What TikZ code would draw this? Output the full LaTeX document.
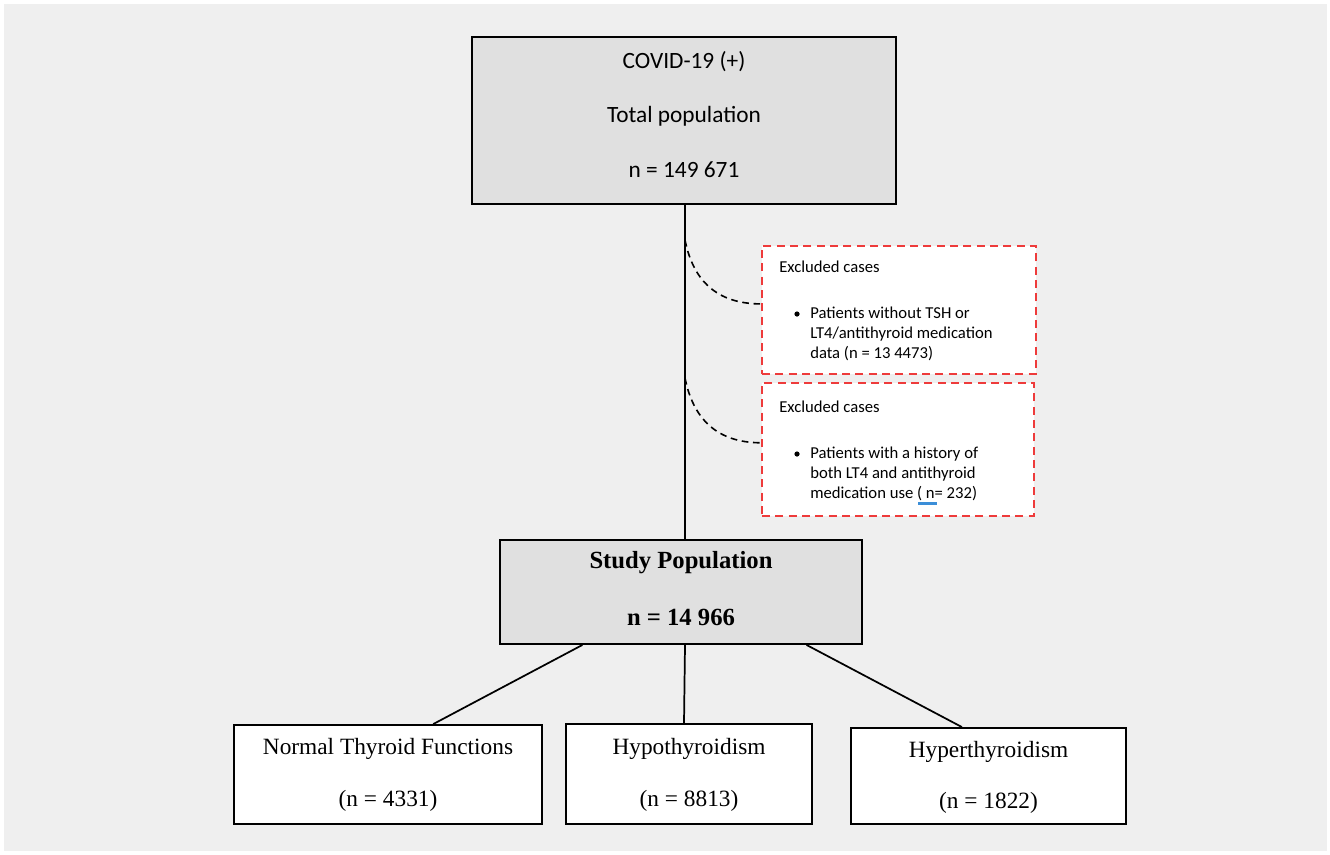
\documentclass[tikz,border=0pt]{standalone}
\usepackage{fontspec}
\setmainfont{Carlito}
\newfontfamily\serifbf{Liberation Serif}
\usetikzlibrary{calc}
\definecolor{bgcol}{HTML}{EFEFEF}
\definecolor{boxgray}{HTML}{E0E0E0}
\definecolor{exred}{HTML}{EE3B3B}
\definecolor{spellblue}{HTML}{3B8ED8}
\tikzset{
  graybox/.style={draw=black, line width=1.4pt, fill=boxgray, inner sep=0pt},
  whitebox/.style={draw=black, line width=1.4pt, fill=white, inner sep=0pt},
  exbox/.style={draw=exred, line width=1.2pt, dash pattern=on 6pt off 4pt, fill=white, inner sep=0pt},
  conn/.style={draw=black, line width=1.3pt},
  dconn/.style={draw=black, line width=1.2pt, dash pattern=on 5pt off 3.5pt},
  toptext/.style={font=\fontsize{17.5}{21}\selectfont, inner sep=0pt},
  extext/.style={font=\fontsize{12.5}{15}\selectfont, inner sep=0pt, align=left},
  studytext/.style={font=\serifbf\bfseries\fontsize{18.5}{22}\selectfont, inner sep=0pt},
  subtext/.style={font=\serifbf\fontsize{17.5}{21}\selectfont, inner sep=0pt}
}
\begin{document}
\begin{tikzpicture}[x=0.75pt, y=-0.75pt]
\useasboundingbox (0,0) rectangle (1330,854);
\fill[white] (0,0) rectangle (1330,854);
\fill[bgcol] (4,4) rectangle (1327,851);

% boxes
\node[graybox, minimum width=424*0.75pt, minimum height=167*0.75pt] (top) at (684,120.5) {};
\node[exbox, minimum width=274*0.75pt, minimum height=128*0.75pt] (ex1) at (899,310) {};
\node[exbox, minimum width=272*0.75pt, minimum height=133*0.75pt] (ex2) at (898,449.5) {};
\node[graybox, minimum width=362*0.75pt, minimum height=104*0.75pt] (study) at (681,592) {};
\node[whitebox, minimum width=308*0.75pt, minimum height=99*0.75pt] (nrm) at (388,774.5) {};
\node[whitebox, minimum width=246*0.75pt, minimum height=100*0.75pt] (hypo) at (689,774) {};
\node[whitebox, minimum width=275*0.75pt, minimum height=96*0.75pt] (hyper) at (988.5,776) {};

% texts top
\node[toptext] (t1) at (684,62) {COVID-19 (+)};
\node[toptext] (t2) at (684,116) {Total population};
\node[toptext] (t3) at (684,170) {n = 149 671};

% excluded 1
\node[extext, anchor=west] (e1h) at (779,267) {Excluded cases};
\fill (797,314) circle (2.6);
\node[extext, anchor=west] (e1b) at (810,334) {Patients without TSH or\\LT4/antithyroid medication\\data (n = 13 4473)};

% excluded 2
\node[extext, anchor=west] (e2h) at (779,407) {Excluded cases};
\fill (797,454) circle (2.6);
\node[extext, anchor=west] (e2b) at (810,474) {Patients with a history of\\both LT4 and antithyroid\\medication use ( n= 232)};
\draw[spellblue, line width=1.6pt] (918,503.5) -- (937,503.5);

% study
\node[studytext] (s1) at (681,563) {Study Population};
\node[studytext] (s2) at (681,617) {n = 14 966};

% subgroups
\node[subtext] (n1) at (388,749) {Normal Thyroid Functions};
\node[subtext] (n2) at (388,801) {(n = 4331)};
\node[subtext] (h1) at (689,749) {Hypothyroidism};
\node[subtext] (h2) at (689,801) {(n = 8813)};
\node[subtext] (y1) at (988.5,752) {Hyperthyroidism};
\node[subtext] (y2) at (988.5,803) {(n = 1822)};

% connectors
\coordinate (a1) at (685,240);
\coordinate (a2) at (685,378);
\draw[conn] (top.south -| a1) -- (study.north -| a1);
\coordinate (e1w) at ($(ex1.north west)!0.453!(ex1.south west)$);
\coordinate (e2w) at ($(ex2.north west)!0.45!(ex2.south west)$);
\draw[dconn] (a1) .. controls ($(a1)+(8,40)$) and ($(e1w)+(-45,0)$) .. (e1w);
\draw[dconn] (a2) .. controls ($(a2)+(8,40)$) and ($(e2w)+(-45,0)$) .. (e2w);

\draw[conn] ($(study.south west)!0.229!(study.south east)$) -- ($(nrm.north west)!0.646!(nrm.north east)$);
\draw[conn] (study.south -| a1) -- (hypo.north -| 684,0);
\draw[conn] ($(study.south west)!0.845!(study.south east)$) -- ($(hyper.north west)!0.404!(hyper.north east)$);
\end{tikzpicture}
\end{document}
